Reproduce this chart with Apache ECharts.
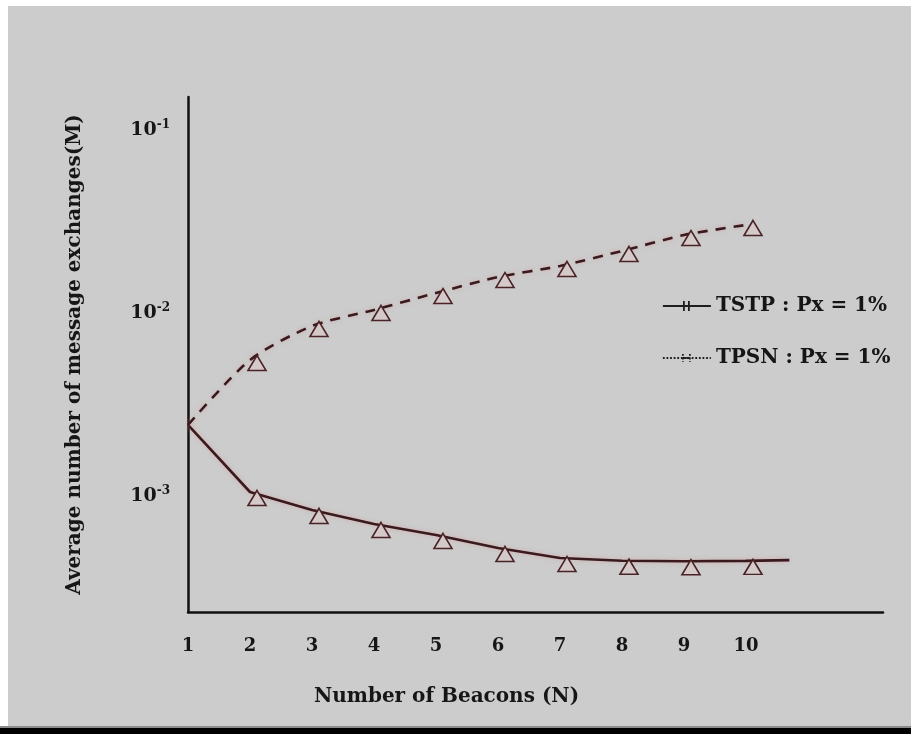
<!DOCTYPE html>
<html>
<head>
<meta charset="utf-8">
<script src="https://cdn.jsdelivr.net/npm/echarts@6/dist/echarts.min.js"></script>
<style>
  html, body { margin: 0; padding: 0; background: #ffffff; }
  #panel { position: absolute; left: 8px; top: 6px; width: 903px; height: 720px; background: #cccccc; }
  #edge { position: absolute; left: 0; top: 726px; width: 911px; height: 2px; background: #8a8a8a; }
  #bar { position: absolute; left: 0; top: 728px; width: 911px; height: 6px; background: #000000; }
  #chart { position: absolute; left: 0; top: 0; width: 911px; height: 734px; }
</style>
</head>
<body>
<div id="panel"></div>
<div id="edge"></div>
<div id="bar"></div>
<div id="chart"></div>
<script>
// ---- data ----
const beacons = [1, 2, 3, 4, 5, 6, 7, 8, 9, 10];
const tstpValues = [0.002455, 0.001056, 0.000842, 0.000706, 0.000615, 0.000522, 0.000460, 0.000445, 0.000442, 0.000444];
const tstpTailX = 10.7;
const tstpTailY = 0.000448;
const tpsnValues = [0.002455, 0.00556, 0.00853, 0.01043, 0.01291, 0.01579, 0.01814, 0.02191, 0.02679, 0.03039];
const xTickLabels = ['1', '2', '3', '4', '5', '6', '7', '8', '9', '10'];
const seriesNames = ['TSTP : Px = 1%', 'TPSN : Px = 1%'];
const xTitle = 'Number of Beacons (N)';
const yTitle = 'Average number of message exchanges(M)';

const FONT = '"DejaVu Serif", "Liberation Serif", serif';
const INK = '#161616';
const LINE = '#3a1a1c';

function pts(xs, ys) {
  return xs.map(function (x, i) {
    const item = { value: [x, ys[i]] };
    if (i === 0) item.symbol = 'none';
    return item;
  });
}
const tstpData = pts(beacons, tstpValues);
tstpData.push({ value: [tstpTailX, tstpTailY], symbol: 'none' });
const tpsnData = pts(beacons, tpsnValues);

const chart = echarts.init(document.getElementById('chart'), null, { renderer: 'canvas' });

const markerStyle = {
  color: '#d4caca',
  borderColor: '#4a2326',
  borderWidth: 1.6
};

chart.setOption({
  backgroundColor: 'transparent',
  animation: false,
  textStyle: { fontFamily: FONT },
  grid: { left: 188, right: 28, top: 97, bottom: 122, outerBoundsMode: 'none' },
  legend: {
    orient: 'vertical',
    left: 657,
    top: 290,
    itemWidth: 48,
    itemHeight: 12,
    itemGap: 30,
    textStyle: { fontFamily: FONT, fontWeight: 'bold', fontSize: 20, color: INK, lineHeight: 22 },
    data: [
      {
        name: seriesNames[0],
        icon: 'path://M0,6L48,6M21,1L21,11M26,1L26,11',
        itemStyle: { color: 'rgba(0,0,0,0)', borderColor: '#1e1e1e', borderWidth: 1.8, borderType: 'solid' }
      },
      {
        name: seriesNames[1],
        icon: 'path://M0,6L48,6M20,2L20,10M27,2L27,10M20,6L27,6',
        itemStyle: { color: 'rgba(0,0,0,0)', borderColor: '#1e1e1e', borderWidth: 1.8, borderType: 'dotted' }
      }
    ]
  },
  xAxis: {
    type: 'value',
    min: 1,
    max: 12.21,
    interval: 1,
    name: xTitle,
    nameLocation: 'middle',
    nameGap: 75,
    nameTextStyle: { fontFamily: FONT, fontWeight: 'bold', fontSize: 20, color: INK, padding: [0, 178, 0, 0] },
    axisLine: { lineStyle: { color: '#111', width: 2.5 } },
    axisTick: { show: false },
    splitLine: { show: false },
    axisLabel: {
      margin: 25,
      fontFamily: FONT,
      fontWeight: 'bold',
      fontSize: 18,
      color: INK,
      formatter: function (v) {
        const i = beacons.indexOf(v);
        return i >= 0 ? xTickLabels[i] : '';
      }
    }
  },
  yAxis: {
    type: 'log',
    logBase: 10,
    min: 2.333e-4,
    max: 0.1521,
    name: yTitle,
    nameLocation: 'middle',
    nameRotate: 90,
    nameGap: 103,
    nameTextStyle: { fontFamily: FONT, fontWeight: 'bold', fontSize: 20, color: INK },
    axisLine: { lineStyle: { color: '#111', width: 2.5 } },
    axisTick: { show: false },
    splitLine: { show: false },
    axisLabel: {
      margin: 18,
      color: INK,
      formatter: function (v) {
        const e = Math.log10(v);
        const r = Math.round(e);
        if (Math.abs(e - r) > 1e-6) return '';
        return '{b|10}{s|' + r + '}';
      },
      rich: {
        b: { fontFamily: FONT, fontWeight: 'bold', fontSize: 19, color: INK, lineHeight: 22 },
        s: { fontFamily: FONT, fontWeight: 'bold', fontSize: 12, color: INK, lineHeight: 12, verticalAlign: 'top' }
      }
    }
  },
  series: [
    {
      name: seriesNames[0],
      type: 'line',
      data: tstpData,
      symbol: 'triangle',
      symbolSize: [18, 15],
      symbolOffset: [7, 6],
      itemStyle: markerStyle,
      lineStyle: { color: LINE, width: 2.6, shadowColor: 'rgba(215,140,145,0.55)', shadowBlur: 4 },
      z: 3
    },
    {
      name: seriesNames[1],
      type: 'line',
      data: tpsnData,
      smooth: 0.25,
      symbol: 'triangle',
      symbolSize: [18, 15],
      symbolOffset: [7, 3],
      itemStyle: markerStyle,
      lineStyle: { color: LINE, width: 2.6, type: [10, 8], shadowColor: 'rgba(215,140,145,0.55)', shadowBlur: 4 },
      z: 3
    }
  ]
});
</script>
</body>
</html>
